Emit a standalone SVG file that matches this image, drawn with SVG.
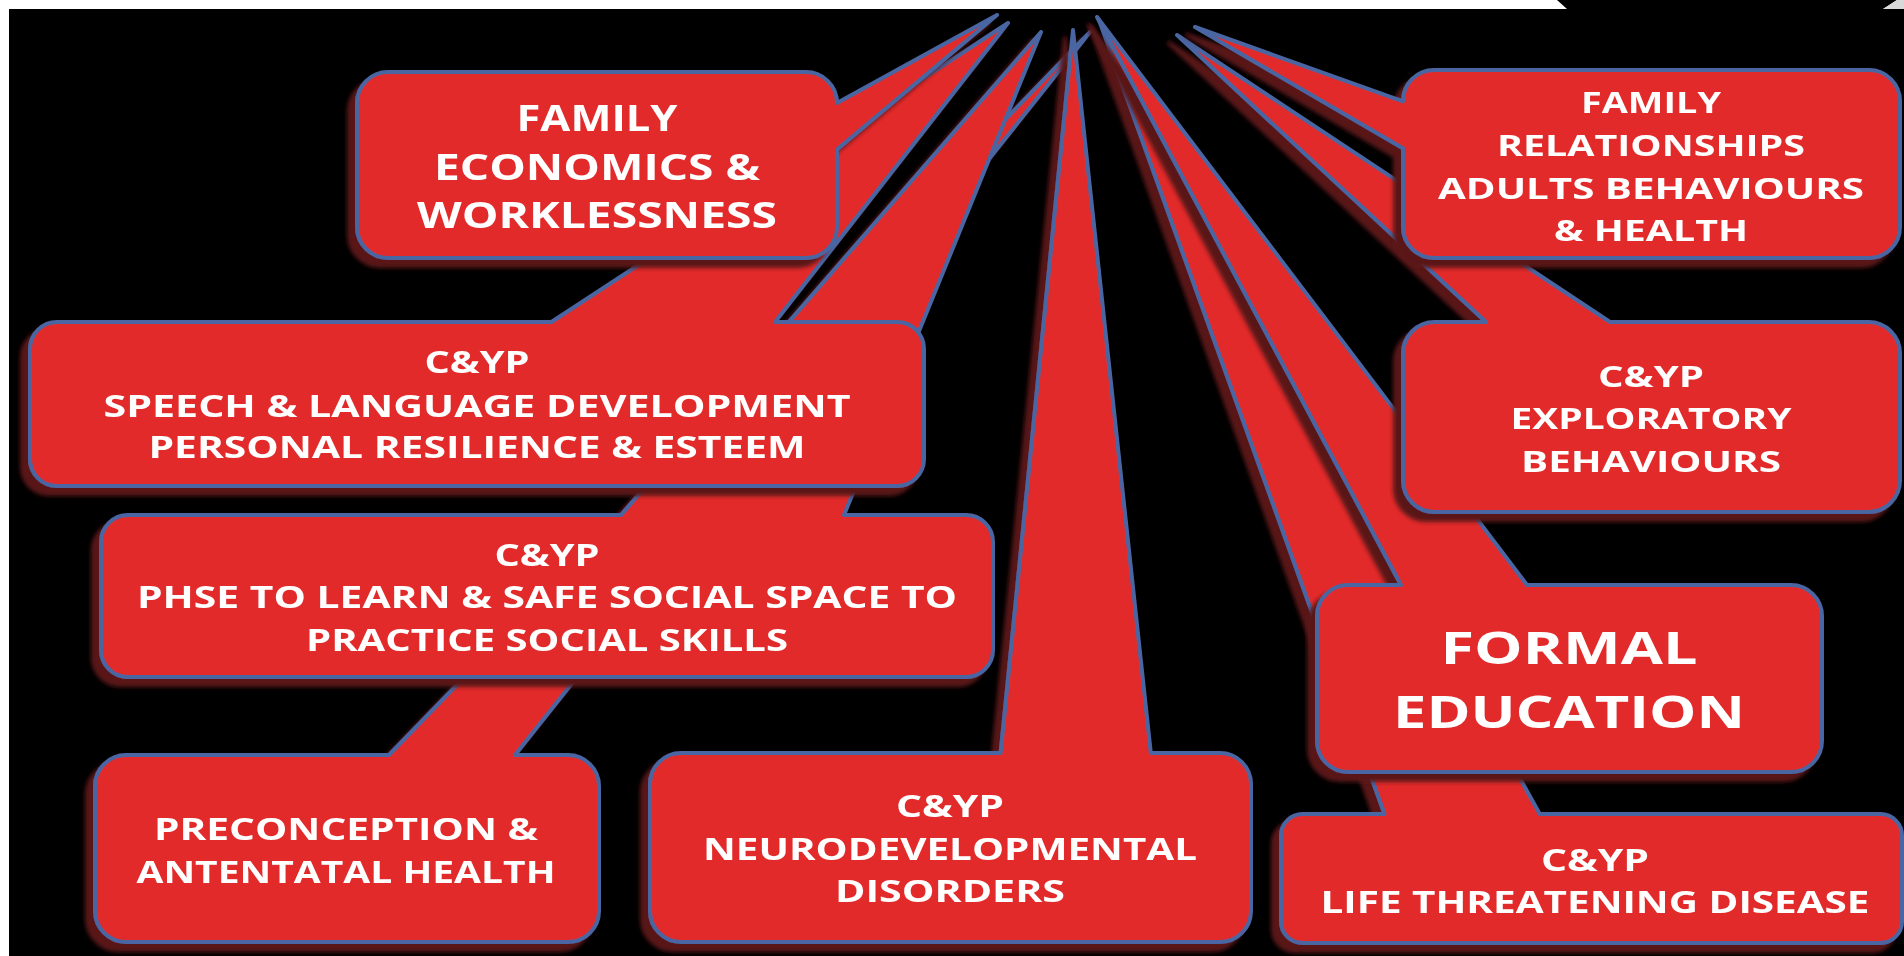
<svg xmlns="http://www.w3.org/2000/svg" width="1904" height="956" viewBox="0 0 1904 956">
  <defs>
    <filter id="sh" filterUnits="userSpaceOnUse" x="0" y="0" width="1904" height="956">
      <feGaussianBlur in="SourceAlpha" stdDeviation="2.2"/>
      <feOffset dx="-8" dy="8" result="b"/>
      <feFlood flood-color="#5a1719"/>
      <feComposite in2="b" operator="in"/>
      <feMerge><feMergeNode/><feMergeNode in="SourceGraphic"/></feMerge>
    </filter>
    <style>
      .box{fill:#e32c2c;stroke:#4a66a3;stroke-width:4;stroke-linejoin:round}
      .t{font-family:"Open Sans","Liberation Sans",sans-serif;font-weight:700;fill:#ffffff;text-anchor:middle}
      .s29{font-size:29px}
      .s30{font-size:30px}
      .s35{font-size:35px}
      .s45{font-size:45px}
    </style>
  </defs>

  <rect x="0" y="0" width="1904" height="956" fill="#ffffff"/>
  <path d="M9,9 L1567,9 L1557,0 L1897,0 L1883,9 L1904,9 L1904,956 L9,956 Z" fill="#000000"/>
  <path d="M1897,0 L1904,0 L1904,9 L1883,9 Z" fill="#d9d9d9"/>

  <g id="connectors"></g>

  <g id="n-preconception" filter="url(#sh)">
    <path class="box" d="M95,786 A31,31 0 0 1 126,755 L389,755 L1090,32 L515,755 L568,755 A31,31 0 0 1 599,786 L599,911 A31,31 0 0 1 568,942 L126,942 A31,31 0 0 1 95,911 Z"/>
    <text class="t s30" x="346" y="840" textLength="384" lengthAdjust="spacingAndGlyphs">PRECONCEPTION &amp;</text>
    <text class="t s30" x="346" y="883" textLength="419" lengthAdjust="spacingAndGlyphs">ANTENTATAL HEALTH</text>
  </g>

  <g id="n-phse" filter="url(#sh)">
    <path class="box" d="M101,542 A27,27 0 0 1 128,515 L621,515 L1041,32 L844,515 L966,515 A27,27 0 0 1 993,542 L993,650 A27,27 0 0 1 966,677 L128,677 A27,27 0 0 1 101,650 Z"/>
    <text class="t s30" x="547" y="566" textLength="105" lengthAdjust="spacingAndGlyphs">C&amp;YP</text>
    <text class="t s30" x="547" y="608" textLength="820" lengthAdjust="spacingAndGlyphs">PHSE TO LEARN &amp; SAFE SOCIAL SPACE TO</text>
    <text class="t s30" x="547" y="651" textLength="482" lengthAdjust="spacingAndGlyphs">PRACTICE SOCIAL SKILLS</text>
  </g>

  <g id="n-speech" filter="url(#sh)">
    <path class="box" d="M30,349 A27,27 0 0 1 57,322 L551.5,322 L1008,23 L775,322 L897,322 A27,27 0 0 1 924,349 L924,459 A27,27 0 0 1 897,486 L57,486 A27,27 0 0 1 30,459 Z"/>
    <text class="t s30" x="477" y="373" textLength="105" lengthAdjust="spacingAndGlyphs">C&amp;YP</text>
    <text class="t s30" x="477" y="417" textLength="747" lengthAdjust="spacingAndGlyphs">SPEECH &amp; LANGUAGE DEVELOPMENT</text>
    <text class="t s30" x="477" y="458" textLength="657" lengthAdjust="spacingAndGlyphs">PERSONAL RESILIENCE &amp; ESTEEM</text>
  </g>

  <g id="n-economics" filter="url(#sh)">
    <path class="box" d="M357,103 A31,31 0 0 1 388,72 L806,72 A31,31 0 0 1 837,103 L997,15 L837,149.5 L837,227 A31,31 0 0 1 806,258 L388,258 A31,31 0 0 1 357,227 Z"/>
    <text class="t s35" x="597" y="131" textLength="161" lengthAdjust="spacingAndGlyphs">FAMILY</text>
    <text class="t s35" x="597" y="180" textLength="326" lengthAdjust="spacingAndGlyphs">ECONOMICS &amp;</text>
    <text class="t s35" x="597" y="228" textLength="360" lengthAdjust="spacingAndGlyphs">WORKLESSNESS</text>
  </g>

  <g id="n-neuro" filter="url(#sh)">
    <path class="box" d="M650,784 A31,31 0 0 1 681,753 L1000.6,753 L1073,30 L1150.8,753 L1220,753 A31,31 0 0 1 1251,784 L1251,911 A31,31 0 0 1 1220,942 L681,942 A31,31 0 0 1 650,911 Z"/>
    <text class="t s30" x="950" y="817" textLength="108" lengthAdjust="spacingAndGlyphs">C&amp;YP</text>
    <text class="t s30" x="950" y="860" textLength="494" lengthAdjust="spacingAndGlyphs">NEURODEVELOPMENTAL</text>
    <text class="t s30" x="950" y="902" textLength="230" lengthAdjust="spacingAndGlyphs">DISORDERS</text>
  </g>

  <g id="n-life" filter="url(#sh)">
    <path class="box" d="M1281,835.5 A21.5,21.5 0 0 1 1302.5,814 L1384.5,814 L1099,20 L1539.75,814 L1880.5,814 A21.5,21.5 0 0 1 1902,835.5 L1902,921.5 A21.5,21.5 0 0 1 1880.5,943 L1302.5,943 A21.5,21.5 0 0 1 1281,921.5 Z"/>
    <text class="t s30" x="1595" y="871" textLength="108" lengthAdjust="spacingAndGlyphs">C&amp;YP</text>
    <text class="t s30" x="1595" y="913" textLength="549" lengthAdjust="spacingAndGlyphs">LIFE THREATENING DISEASE</text>
  </g>

  <g id="n-formal" filter="url(#sh)">
    <path class="box" d="M1317,616 A31,31 0 0 1 1348,585 L1401,585 L1097,17 L1527,585 L1791,585 A31,31 0 0 1 1822,616 L1822,741 A31,31 0 0 1 1791,772 L1348,772 A31,31 0 0 1 1317,741 Z"/>
    <text class="t s45" x="1569" y="664" textLength="257" lengthAdjust="spacingAndGlyphs">FORMAL</text>
    <text class="t s45" x="1569" y="728" textLength="352" lengthAdjust="spacingAndGlyphs">EDUCATION</text>
  </g>

  <g id="n-exploratory" filter="url(#sh)">
    <path class="box" d="M1403,353.5 A31.5,31.5 0 0 1 1434.5,322 L1486,322 L1177,35 L1610,322 L1868.5,322 A31.5,31.5 0 0 1 1900,353.5 L1900,480.5 A31.5,31.5 0 0 1 1868.5,512 L1434.5,512 A31.5,31.5 0 0 1 1403,480.5 Z"/>
    <text class="t s29" x="1651" y="387" textLength="106" lengthAdjust="spacingAndGlyphs">C&amp;YP</text>
    <text class="t s29" x="1651" y="429" textLength="281" lengthAdjust="spacingAndGlyphs">EXPLORATORY</text>
    <text class="t s29" x="1651" y="472" textLength="260" lengthAdjust="spacingAndGlyphs">BEHAVIOURS</text>
  </g>

  <g id="n-relationships" filter="url(#sh)">
    <path class="box" d="M1403,101.3 A31,31 0 0 1 1434,70 L1869,70 A31,31 0 0 1 1900,101 L1900,227 A31,31 0 0 1 1869,258 L1434,258 A31,31 0 0 1 1403,227 L1403,148.3 L1195,27 Z"/>
    <text class="t s29" x="1651" y="113" textLength="140" lengthAdjust="spacingAndGlyphs">FAMILY</text>
    <text class="t s29" x="1651" y="156" textLength="308" lengthAdjust="spacingAndGlyphs">RELATIONSHIPS</text>
    <text class="t s29" x="1651" y="199" textLength="426" lengthAdjust="spacingAndGlyphs">ADULTS BEHAVIOURS</text>
    <text class="t s29" x="1651" y="241" textLength="194" lengthAdjust="spacingAndGlyphs">&amp; HEALTH</text>
  </g>
</svg>
